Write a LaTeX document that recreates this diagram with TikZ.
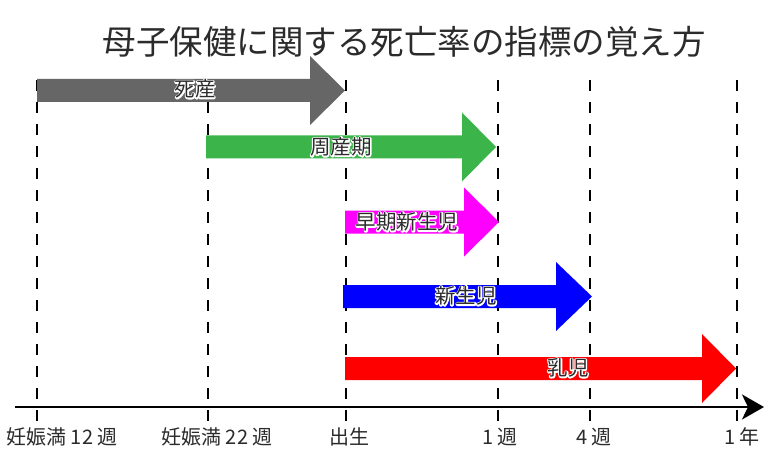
\documentclass[tikz,border=0pt]{standalone}
\usepackage{fontspec}
\setmainfont{Noto Sans CJK JP}
\usetikzlibrary{arrows.meta}

\definecolor{stillgray}{HTML}{666666}
\definecolor{perigreen}{HTML}{3BB54A}
\definecolor{earlypink}{HTML}{FF00FF}
\definecolor{textgray}{HTML}{2B2B2B}

% white outline behind the label text (stroked copy, then the filled one)
\newcommand\halotext[1]{\leavevmode\rlap{\special{pdf:literal direct 1 Tr 1 1 1 RG 2.6 w 1 j}#1\special{pdf:literal direct 0 Tr}}#1}

\tikzset{
  period/.style={font=\fontsize{20.5}{24}\selectfont, text=textgray, inner sep=0pt},
  tick label/.style={font=\fontsize{20}{24}\selectfont, text=textgray, inner sep=0pt},
  guide/.style={line width=2.5pt, dash pattern=on 11pt off 11pt}
}

\begin{document}
\begin{tikzpicture}[x=1pt,y=1pt]

	  \useasboundingbox [fill=white] (0,0) rectangle (768,456);

	  \node (title) [font=\fontsize{33.5}{40}\selectfont, text=textgray] at (404,414) {母子保健に関する死亡率の指標の覚え方};

	  %----------------------------------------------------------------
	  % dashed guides, top to bottom
	  \draw [guide] (37,376) -- (37,32);
	  \draw [guide] (208,376) -- (208,32);
	  \draw [guide] (346,376) -- (346,32);
	  \draw [guide] (498,376) -- (498,32);
	  \draw [guide] (590,376) -- (590,32);
	  \draw [guide] (737,376) -- (737,32);

	  %----------------------------------------------------------------
	  % period arrows
	  \fill [stillgray] (37,354) -- (310,354) -- (310,331) -- (345,365.5) -- (310,400) -- (310,377) -- (37,377) -- cycle;
	  \fill [perigreen] (206,297.5) -- (462,297.5) -- (462,274.5) -- (496,309) -- (462,343.5) -- (462,320.5) -- (206,320.5) -- cycle;
	  \fill [earlypink] (345,222.5) -- (464,222.5) -- (464,199.5) -- (499,234) -- (464,268.5) -- (464,245.5) -- (345,245.5) -- cycle;
	  \fill [blue] (343,148) -- (556,148) -- (556,125) -- (592,159.5) -- (556,194) -- (556,171) -- (343,171) -- cycle;
	  \fill [red] (345,76) -- (702,76) -- (702,53) -- (736,87.5) -- (702,122) -- (702,99) -- (345,99) -- cycle;

	  \node (stillbirth) [period] at (195,367) {\halotext{死産}};
	  \node (perinatal) [period] at (341,309) {\halotext{周産期}};
	  \node (earlyneo) [period] at (407,234) {\halotext{早期新生児}};
	  \node (neonatal) [period] at (466,160) {\halotext{新生児}};
	  \node (infant) [period] at (568,88) {\halotext{乳児}};

	  %----------------------------------------------------------------
	  % time axis
	  \coordinate (axis start) at (15,49);
	  \coordinate (axis end) at (764,49);
	  \draw [line width=2.5pt, -{Stealth[length=22pt,width=25pt,inset=6pt]}] (axis start) -- (axis end);

	  \node (w12) [tick label] at (62,19) {妊娠満 12 週};
	  \node (w22) [tick label] at (217,19) {妊娠満 22 週};
	  \node (birth) [tick label] at (349,19) {出生};
	  \node (week1) [tick label] at (500,19) {1 週};
	  \node (week4) [tick label] at (594,19) {4 週};
	  \node (year1) [tick label] at (742,19) {1 年};

\end{tikzpicture}
\end{document}
